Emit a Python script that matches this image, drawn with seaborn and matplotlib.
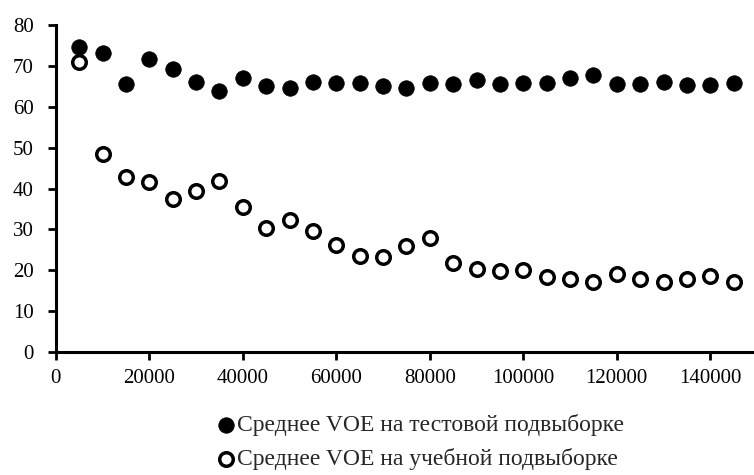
import pandas as pd
import matplotlib.pyplot as plt
import seaborn as sns

# Данные
OBJEMY = [5000, 10000, 15000, 20000, 25000, 30000, 35000, 40000, 45000, 50000,
          55000, 60000, 65000, 70000, 75000, 80000, 85000, 90000, 95000, 100000,
          105000, 110000, 115000, 120000, 125000, 130000, 135000, 140000, 145000]
VOE_TEST = [74.7, 73.2, 65.5, 71.6, 69.2, 66.1, 63.9, 67.0, 65.2, 64.7,
            66.2, 65.9, 65.9, 65.1, 64.5, 65.9, 65.5, 66.5, 65.6, 65.8,
            65.8, 67.1, 67.9, 65.6, 65.6, 66.0, 65.4, 65.4, 65.9]
VOE_TRAIN = [71.0, 48.4, 42.9, 41.5, 37.4, 39.4, 41.8, 35.5, 30.4, 32.3,
             29.5, 26.2, 23.5, 23.3, 25.9, 28.0, 21.9, 20.4, 19.9, 20.1,
             18.3, 17.9, 17.2, 19.1, 17.8, 17.1, 17.8, 18.5, 17.2]
X_TICKS = [0, 20000, 40000, 60000, 80000, 100000, 120000, 140000]
Y_TICKS = [0, 10, 20, 30, 40, 50, 60, 70, 80]

LABEL_TEST = "Среднее VOE на тестовой подвыборке"
LABEL_TRAIN = "Среднее VOE на учебной подвыборке"

df = pd.DataFrame({"n": OBJEMY, "test": VOE_TEST, "train": VOE_TRAIN})

sns.set_style("ticks")
plt.rcParams["font.family"] = ["Liberation Serif", "DejaVu Serif"]

fig = plt.figure(figsize=(7.54, 4.75), dpi=100)
ax = fig.add_axes([0.074, 0.259, 0.93, 0.688])

sns.scatterplot(data=df, x="n", y="test", ax=ax, color="black", s=125,
                edgecolor="black", linewidth=0.5, label=LABEL_TEST, zorder=3)
sns.scatterplot(data=df, x="n", y="train", ax=ax, facecolor="white", s=95,
                edgecolor="black", linewidth=2.5, label=LABEL_TRAIN, zorder=3)

ax.set_xlim(0, 150000)
ax.set_ylim(0, 80)
ax.set_xticks(X_TICKS)
ax.set_yticks(Y_TICKS)
ax.set_xlabel("")
ax.set_ylabel("")
ax.tick_params(axis="both", direction="out", length=6, width=2,
               labelsize=15, colors="black")
ax.tick_params(axis="y", pad=10)
ax.tick_params(axis="x", pad=6)
for side in ["left", "bottom"]:
    ax.spines[side].set_linewidth(2.2)
    ax.spines[side].set_color("black")
sns.despine(ax=ax, top=True, right=True)

handles, labels = ax.get_legend_handles_labels()
ax.get_legend().remove()
fig.legend(handles, labels, loc="center", bbox_to_anchor=(0.557, 0.069),
           frameon=False, fontsize=17, handletextpad=0.0, handlelength=0.9,
           labelspacing=0.5, borderaxespad=0, markerscale=1.0)

plt.savefig("out.png", dpi=100)
plt.close()
